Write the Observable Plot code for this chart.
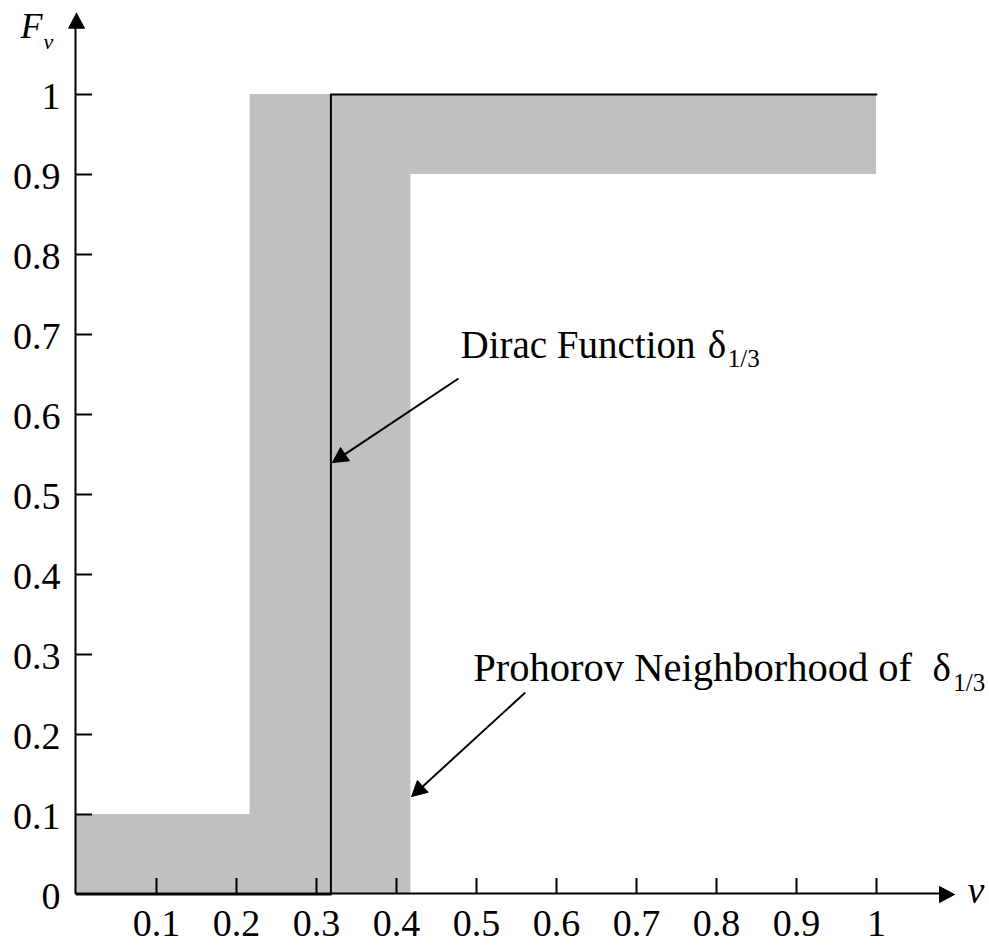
<!DOCTYPE html>
<html>
<head>
<meta charset="utf-8">
<script src="https://cdn.jsdelivr.net/npm/d3@7"></script>
<script src="https://cdn.jsdelivr.net/npm/@observablehq/plot@0.6"></script>
<style>
  html, body { margin: 0; padding: 0; background: #fff; }
  svg { display: block; }
</style>
</head>
<body>
<div id="chart"></div>
<script>
// ---- data ----
const xTicks = [0.1, 0.2, 0.3, 0.4, 0.5, 0.6, 0.7, 0.8, 0.9, 1];
const xTickLabels = ["0.1", "0.2", "0.3", "0.4", "0.5", "0.6", "0.7", "0.8", "0.9", "1"];
const yTicks = [0, 0.1, 0.2, 0.3, 0.4, 0.5, 0.6, 0.7, 0.8, 0.9, 1];
const yTickLabels = ["0", "0.1", "0.2", "0.3", "0.4", "0.5", "0.6", "0.7", "0.8", "0.9", "1"];

// Dirac step function (drawn step-after)
const diracV = [0, 0.318, 1];
const diracF = [0, 1, 1];

// Prohorov neighborhood: lower and upper CDF bounds (step-after)
const bandV = [0, 0.217, 0.418, 1];
const bandLower = [0, 0, 0.9, 0.9];
const bandUpper = [0.1, 1, 1, 1];

// annotations (data coordinates)
const annV1 = [0.4775, 0.561];
const annF1 = [0.645, 0.2525];
const annV2 = [0.32, 0.419];
const annF2 = [0.54, 0.1225];
const annText = ["Dirac Function", "Prohorov Neighborhood of"];
const annTextV = [0.48, 0.496];
const annTextF = [0.671, 0.2675];
const deltaV = [0.789, 1.07];
const subV = [0.814, 1.096];
const subF = [0.659, 0.255];

// axis arrow tips
const axisTipV = 1.0975;
const axisTipF = 1.1016;

// ---- build ----
const band = bandV.map((v, i) => ({v, lo: bandLower[i], hi: bandUpper[i]}));
const dirac = diracV.map((v, i) => ({v, F: diracF[i]}));
const ann = annV1.map((v1, i) => ({
  v1, F1: annF1[i], v2: annV2[i], F2: annF2[i],
  text: annText[i], tv: annTextV[i], tF: annTextF[i],
  dv: deltaV[i], sv: subV[i], sF: subF[i]
}));

const UNIT = 800; // px per data unit (both axes)
const HEAD_L = 15 / UNIT, HEAD_W = 16 / UNIT;
function head(x1, y1, x2, y2, id) {
  const dx = x2 - x1, dy = y2 - y1, len = Math.hypot(dx, dy);
  const ux = dx / len, uy = dy / len, nx = -uy, ny = ux;
  const bx = x2 - ux * HEAD_L, by = y2 - uy * HEAD_L;
  return [
    {x: x2, y: y2, id},
    {x: bx + nx * HEAD_W / 2, y: by + ny * HEAD_W / 2, id},
    {x: bx - nx * HEAD_W / 2, y: by - ny * HEAD_W / 2, id},
    {x: x2, y: y2, id}
  ];
}
const heads = [
  ...head(0, 0, axisTipV, 0, "xaxis"),
  ...head(0, 0, 0, axisTipF, "yaxis"),
  ...ann.flatMap((a, i) => head(a.v1, a.F1, a.v2, a.F2, "ann" + i))
];
const shafts = ann.map(a => {
  const dx = a.v2 - a.v1, dy = a.F2 - a.F1, len = Math.hypot(dx, dy);
  return {x1: a.v1, y1: a.F1, x2: a.v2 - dx / len * HEAD_L * 0.8, y2: a.F2 - dy / len * HEAD_L * 0.8};
});

const serif = "'Liberation Serif', 'Times New Roman', serif";

const chart = Plot.plot({
  width: 989,
  height: 945,
  marginLeft: 76,
  marginRight: 33,
  marginTop: 14,
  marginBottom: 51,
  x: {domain: [0, 1.1], axis: null},
  y: {domain: [0, 1.1], axis: null},
  style: {fontFamily: serif, background: "#fff", color: "#000"},
  marks: [
    Plot.areaY(band, {x: "v", y1: "lo", y2: "hi", curve: "step-after", fill: "#c0c0c0"}),
    // axes
    Plot.ruleY([0], {x1: 0, x2: axisTipV - HEAD_L * 0.5, stroke: "#000", strokeWidth: 2, dy: -1}),
    Plot.ruleX([0], {y1: 0, y2: axisTipF - HEAD_L * 0.5, stroke: "#000", strokeWidth: 2, dx: -1}),
    Plot.ruleX(xTicks, {x: d => d, y1: 0, y2: 0.02, stroke: "#000", strokeWidth: 2}),
    Plot.ruleY(yTicks.slice(1), {y: d => d, x1: 0, x2: 0.02, stroke: "#000", strokeWidth: 2}),
    // Dirac function
    Plot.line(dirac, {x: "v", y: "F", curve: "step-after", stroke: "#000", strokeWidth: 2}),
    // arrows
    Plot.link(shafts, {x1: "x1", y1: "y1", x2: "x2", y2: "y2", stroke: "#000", strokeWidth: 2}),
    Plot.line(heads, {x: "x", y: "y", z: "id", fill: "#000", stroke: "#000", strokeWidth: 1}),
    // tick labels
    Plot.text(xTicks, {x: d => d, y: 0, text: (d, i) => xTickLabels[i], dy: 41, lineAnchor: "bottom", fontSize: 38}),
    Plot.text(yTicks, {x: 0, y: d => d, text: (d, i) => yTickLabels[i], textAnchor: "end", dx: -16, dy: 2, fontSize: 38}),
    // axis titles
    Plot.text(["F"], {frameAnchor: "top-left", text: d => d, textAnchor: "start", lineAnchor: "bottom", dx: -56, dy: 23, fontSize: 36, fontStyle: "italic"}),
    Plot.text(["v"], {frameAnchor: "top-left", text: d => d, textAnchor: "start", lineAnchor: "bottom", dx: -33, dy: 34, fontSize: 22, fontStyle: "italic"}),
    Plot.text(["v"], {frameAnchor: "bottom-right", text: d => d, textAnchor: "start", lineAnchor: "bottom", dx: 11, dy: 8, fontSize: 38, fontStyle: "italic"}),
    // annotation text
    Plot.text(ann, {x: "tv", y: "tF", text: "text", textAnchor: "start", lineAnchor: "bottom", fontSize: (d, i) => (i === 1 ? 40.5 : 39)}),
    Plot.text(ann, {x: "dv", y: "tF", text: () => "δ", textAnchor: "start", lineAnchor: "bottom", fontSize: 39}),
    Plot.text(ann, {x: "sv", y: "sF", text: () => "1/3", textAnchor: "start", lineAnchor: "bottom", fontSize: 25})
  ]
});
document.getElementById("chart").appendChild(chart);
</script>
</body>
</html>
